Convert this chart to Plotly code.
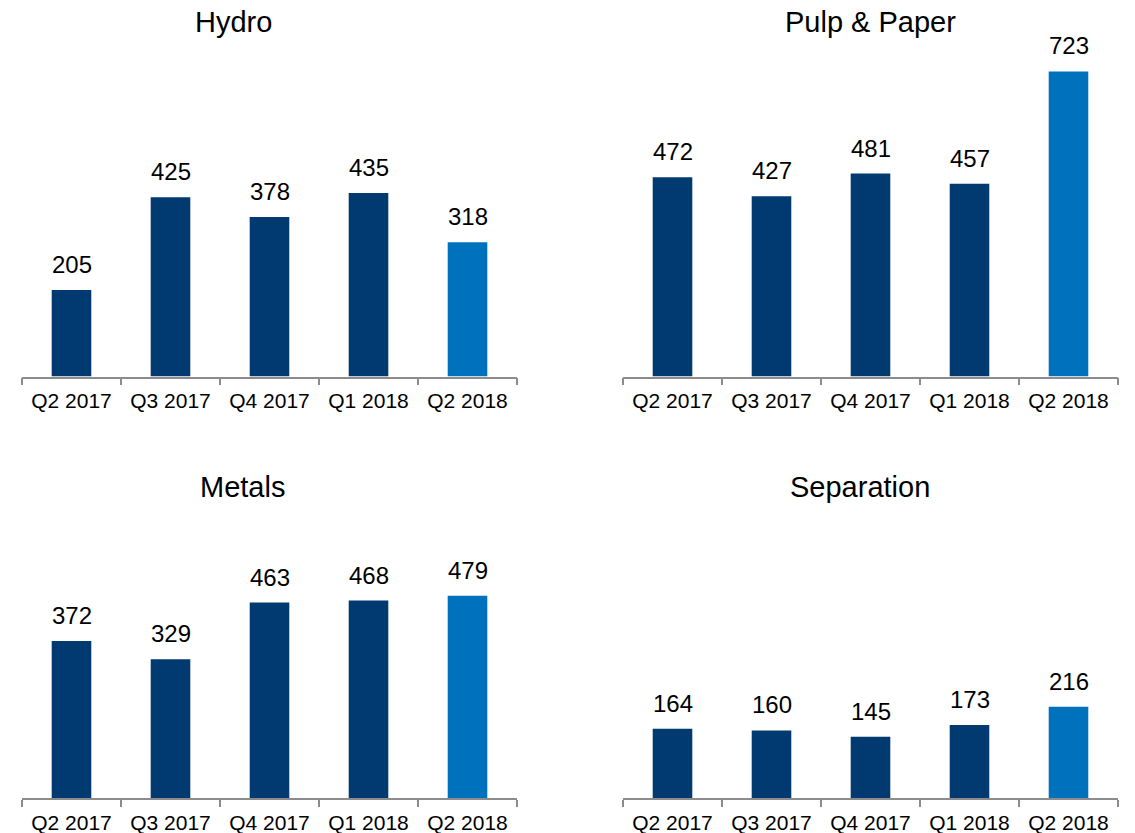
import plotly.graph_objects as go

quarters = ["Q2 2017", "Q3 2017", "Q4 2017", "Q1 2018", "Q2 2018"]
titles = ["Hydro", "Pulp & Paper", "Metals", "Separation"]
hydro = [205, 425, 378, 435, 318]
pulp_paper = [472, 427, 481, 457, 723]
metals = [372, 329, 463, 468, 479]
separation = [164, 160, 145, 173, 216]
series = [hydro, pulp_paper, metals, separation]

DARK = "#003a70"
LIGHT = "#0072bd"
AXIS = "#8c8c8c"
FONT = "Liberation Sans, Arial, sans-serif"

W, H = 1135, 833
YMAX = 800
# pixel layout: (x0, x1, baseline_y)
panels = [(22, 517, 376.5), (623, 1118, 376.5), (22, 517, 798), (623, 1118, 798)]
px_per_unit = 0.422
title_pos = [(233, 22), (870, 22), (243, 487), (860, 487)]

fig = go.Figure()
for i, (vals, (x0, x1, base)) in enumerate(zip(series, panels)):
    n = "" if i == 0 else str(i + 1)
    colors = [DARK] * (len(vals) - 1) + [LIGHT]
    fig.add_trace(go.Bar(x=quarters, y=vals, marker=dict(color=colors, line=dict(width=0)),
                         width=0.4, xaxis="x" + n, yaxis="y" + n, showlegend=False,
                         hoverinfo="x+y"))
    top = base - YMAX * px_per_unit
    fig.layout["xaxis" + n] = dict(
        domain=[x0 / W, x1 / W], anchor="y" + n, type="category",
        showline=True, linecolor=AXIS, linewidth=1.5, ticks="outside", tickson="boundaries",
        ticklen=7, tickcolor=AXIS, tickwidth=1.5, showgrid=False, zeroline=False,
        ticklabelstandoff=5,
        tickfont=dict(family=FONT, size=21, color="#000000"), fixedrange=True)
    fig.layout["yaxis" + n] = dict(
        domain=[(H - base) / H, (H - top) / H], anchor="x" + n, range=[0, YMAX],
        visible=False, showgrid=False, zeroline=False, fixedrange=True)
    for q, v in zip(quarters, vals):
        fig.add_annotation(x=q, y=v, xref="x" + n, yref="y" + n, text=str(v),
                           showarrow=False, yanchor="bottom", yshift=10,
                           font=dict(family=FONT, size=24, color="#000000"))
    tx, ty = title_pos[i]
    fig.add_annotation(x=tx / W, y=(H - ty) / H, xref="paper", yref="paper", text=titles[i],
                       showarrow=False, xanchor="center", yanchor="middle",
                       font=dict(family=FONT, size=29, color="#000000"))

fig.update_layout(width=W, height=H, margin=dict(l=0, r=0, t=0, b=0),
                  plot_bgcolor="white", paper_bgcolor="white", bargap=0.6)
fig.write_html("out.html", config={"displayModeBar": False},
               post_script="document.body.style.margin='0';")
